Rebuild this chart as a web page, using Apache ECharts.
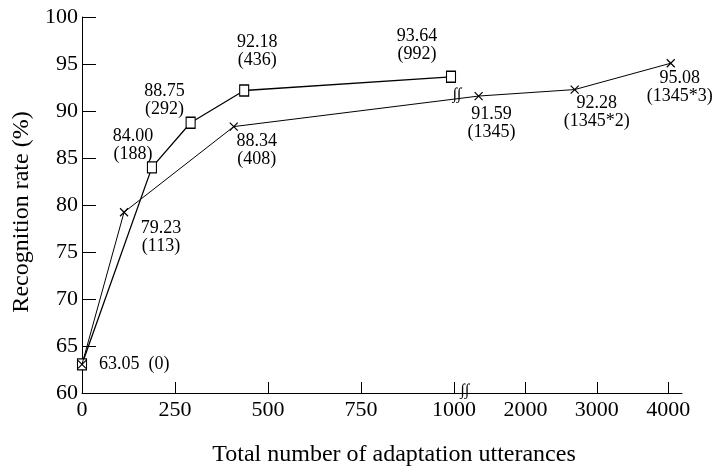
<!DOCTYPE html>
<html>
<head>
<meta charset="utf-8">
<script src="https://cdn.jsdelivr.net/npm/echarts@6/dist/echarts.min.js"></script>
<style>
  html, body { margin: 0; padding: 0; background: #fff; }
  #chart { width: 714px; height: 467px; }
</style>
</head>
<body>
<div id="chart"></div>
<script>
// square series (adaptation utterances, recognition rate)
const squareCounts = [0, 188, 292, 436, 992]
const squareRates = [63.05, 84.00, 88.75, 92.18, 93.64]
const squareTags = ['0', '188', '292', '436', '992']

// cross series
const crossCounts = [0, 113, 408, 1345, 2690, 4035]
const crossRates = [63.05, 79.23, 88.34, 91.59, 92.28, 95.08]
const crossTags = ['', '113', '408', '1345', '1345*2', '1345*3']

const xTicks = [0, 250, 500, 750, 1000, 2000, 3000, 4000]
const yMin = 60
const yMax = 100
const yStep = 5

// broken axis: linear up to 1000, compressed above
const K = 0.192
const tx = v => (v <= 1000 ? v : 1000 + (v - 1000) * K)
const untx = t => (t <= 1000 ? t : Math.round(1000 + (t - 1000) / K))

// label offsets (px) for each point, style only
const squareLabelOffsets = [null, [-19, -22], [-26, -22], [13, -39], [-34, -32]]
const crossLabelOffsets = [null, [37, 25], [23, 24], [13, 27], [22, 23], [9, 24]]

const FONT = "'Liberation Serif', 'DejaVu Serif', serif"

const chart = echarts.init(document.getElementById('chart'))

function labelFor(offset, rate, tag) {
  if (!offset) return { show: false }
  return {
    show: true,
    position: 'inside',
    offset: offset,
    align: 'center',
    verticalAlign: 'middle',
    fontFamily: FONT,
    fontSize: 18,
    lineHeight: 18,
    color: '#000',
    formatter: rate.toFixed(2) + '\n(' + tag + ')'
  }
}

const squareData = squareCounts.map((c, i) => {
  const item = { value: [tx(c), squareRates[i]], label: labelFor(squareLabelOffsets[i], squareRates[i], squareTags[i]) }
  if (i === 0) {
    item.label = {
      show: true,
      position: 'right',
      distance: 12,
      fontFamily: FONT,
      fontSize: 18,
      color: '#000',
      formatter: squareRates[i].toFixed(2) + '  (' + squareTags[i] + ')'
    }
  }
  return item
})

const crossData = crossCounts.map((c, i) => ({
  value: [tx(c), crossRates[i]],
  label: labelFor(crossLabelOffsets[i], crossRates[i], crossTags[i])
}))

const breakLabel = {
  show: true,
  position: 'inside',
  fontFamily: FONT,
  fontStyle: 'italic',
  fontSize: 16,
  color: '#000',
  formatter: '∫∫'
}

const option = {
  animation: false,
  backgroundColor: '#fff',
  grid: { left: 82, right: 32, top: 17, bottom: 74, outerBoundsMode: 'none' },
  xAxis: {
    type: 'value',
    min: 0,
    max: 1613,
    name: 'Total number of adaptation utterances',
    nameLocation: 'middle',
    nameGap: 50,
    nameTextStyle: { fontFamily: FONT, fontSize: 24, color: '#000', padding: [0, 0, 0, 24] },
    axisLine: { lineStyle: { color: '#000', width: 1 } },
    axisTick: { inside: true, length: 11, lineStyle: { color: '#000' }, customValues: xTicks.map(tx) },
    axisLabel: {
      customValues: xTicks.map(tx),
      formatter: v => String(untx(v)),
      fontFamily: FONT,
      fontSize: 22,
      color: '#000',
      margin: 6
    },
    splitLine: { show: false }
  },
  yAxis: {
    type: 'value',
    min: yMin,
    max: yMax,
    interval: yStep,
    name: 'Recognition rate (%)',
    nameLocation: 'middle',
    nameRotate: 90,
    nameGap: 46,
    nameTextStyle: { fontFamily: FONT, fontSize: 24, color: '#000', padding: [0, 14, 0, 0] },
    axisLine: { show: true, lineStyle: { color: '#000', width: 1 } },
    axisTick: { show: true, inside: true, length: 14, lineStyle: { color: '#000' } },
    axisLabel: { fontFamily: FONT, fontSize: 22, color: '#000', margin: 4 },
    splitLine: { show: false }
  },
  series: [
    {
      name: 'square',
      type: 'line',
      data: squareData,
      symbol: 'rect',
      symbolSize: [9, 11],
      lineStyle: { color: '#000', width: 1.3 },
      itemStyle: { color: '#fff', borderColor: '#000', borderWidth: 1.2 },
      z: 2
    },
    {
      name: 'cross',
      type: 'line',
      data: crossData,
      symbol: 'path://M0,0L8,8M8,0L0,8',
      symbolSize: [8, 8],
      lineStyle: { color: '#000', width: 1 },
      itemStyle: { color: '#000', borderColor: '#000', borderWidth: 1.2 },
      markPoint: {
        symbol: 'rect',
        symbolSize: [1, 1],
        itemStyle: { color: 'rgba(0,0,0,0)' },
        label: breakLabel,
        data: [
          { coord: [tx(1040), 91.75] },
          { coord: [tx(1150), 60.2] }
        ]
      },
      z: 3
    }
  ]
}

chart.setOption(option)
</script>
</body>
</html>
